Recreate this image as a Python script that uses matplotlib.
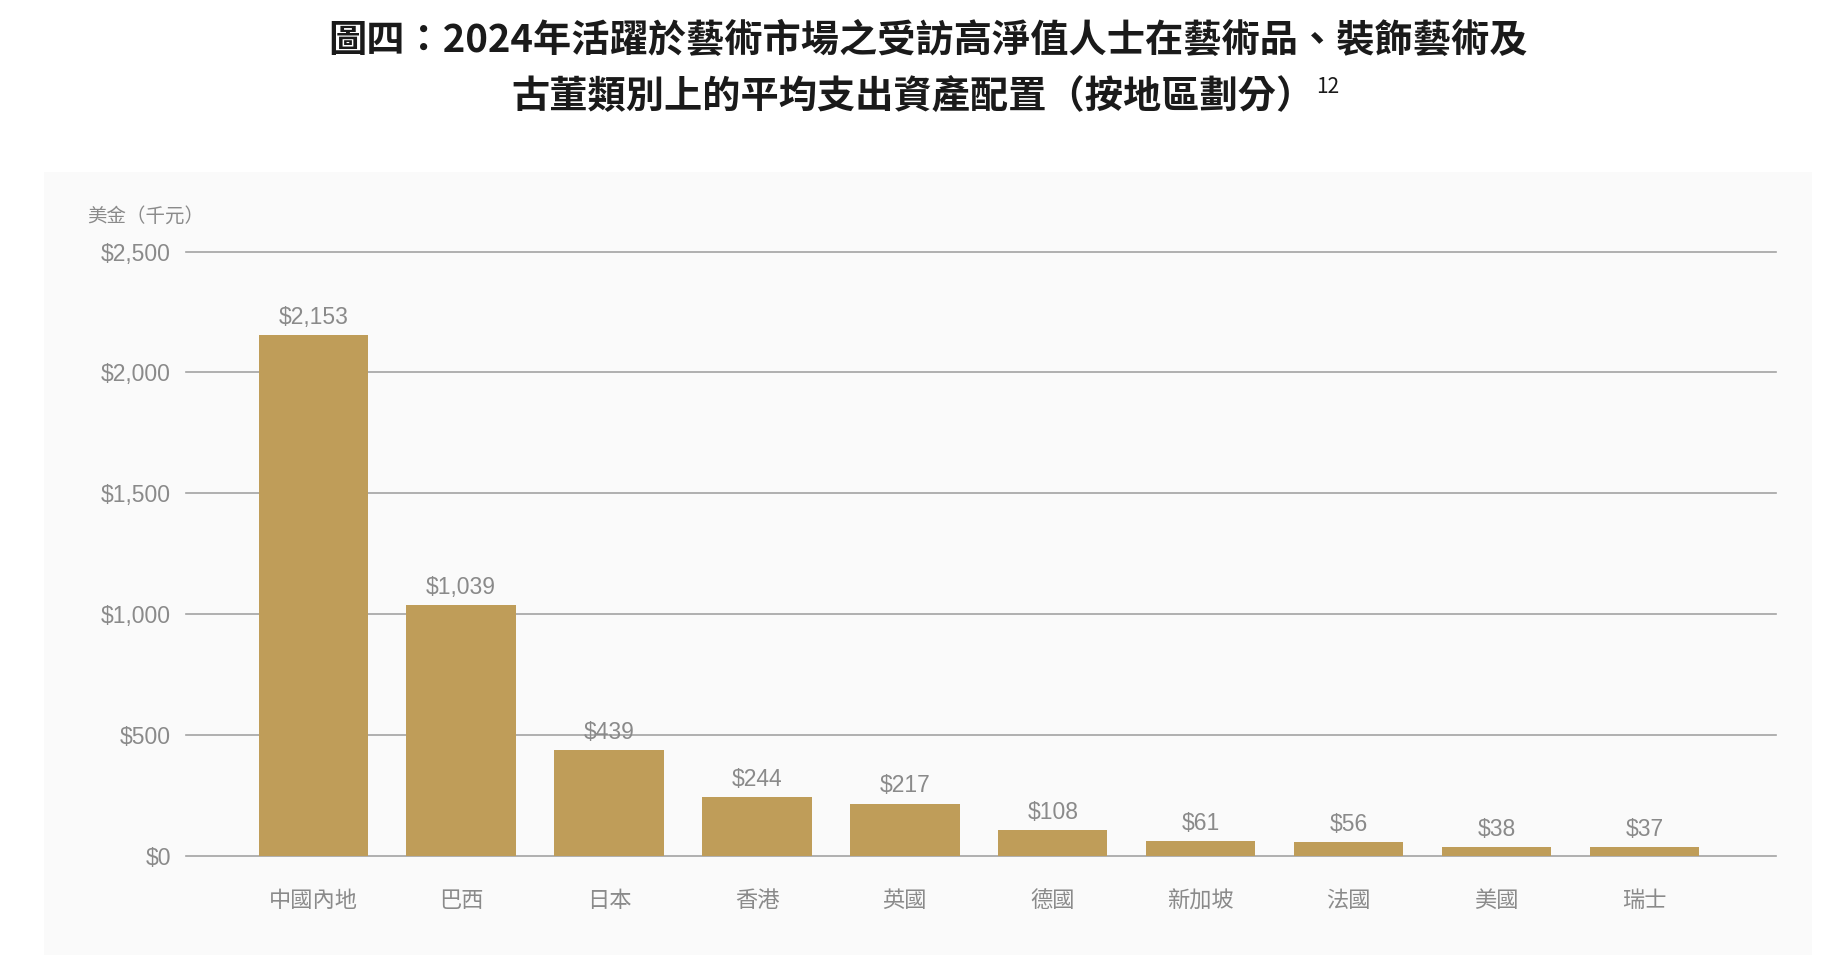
import matplotlib.pyplot as plt
from matplotlib.patches import Rectangle

# Data
regions = ["中國內地", "巴西", "日本", "香港", "英國", "德國", "新加坡", "法國", "美國", "瑞士"]
spend = [2153, 1039, 439, 244, 217, 108, 61, 56, 38, 37]
y_ticks = [0, 500, 1000, 1500, 2000, 2500]

title_line1 = "圖四：2024年活躍於藝術市場之受訪高淨值人士在藝術品、裝飾藝術及"
title_line2 = "古董類別上的平均支出資產配置（按地區劃分）"
y_label = "美金（千元）"

cjk = ["Noto Sans CJK TC", "DejaVu Sans"]
num_font = ["Liberation Sans", "DejaVu Sans"]
grey = "#8a8a8a"
gold = "#bf9d59"

# Creating the figure
fig = plt.figure(figsize=(18.26, 9.55), dpi=100)
fig.patches.append(Rectangle((0.0241, 0), 0.968, 0.82, transform=fig.transFigure,
                             facecolor="#fafafa", edgecolor="none", zorder=-5))

ax = fig.add_axes([0.1019, 0.1037, 0.8707, 0.6329])
ax.set_facecolor("none")
ax.set_zorder(2)

# Bars
x = list(range(len(regions)))
ax.bar(x, spend, width=0.74, color=gold, zorder=3)

# Gridlines
for t in y_ticks:
    ax.axhline(t, color="#a3a3a3", lw=1.2, zorder=1, clip_on=False)

ax.set_xlim(-0.86, 9.89)
ax.set_ylim(0, 2500)
for s in ax.spines.values():
    s.set_visible(False)

ax.set_yticks(y_ticks)
ax.set_yticklabels(["$" + "{:,}".format(t) for t in y_ticks], fontfamily=num_font,
                   fontsize=16.5, color=grey)
ax.set_xticks(x)
ax.set_xticklabels(regions, fontfamily=cjk, fontsize=16, color=grey, fontweight="light")
ax.tick_params(axis="y", length=0, pad=11)
ax.tick_params(axis="x", length=0, pad=24)

# Value labels
for i, v in zip(x, spend):
    ax.annotate("$" + "{:,}".format(v), (i, v), xytext=(0, 8), textcoords="offset points",
                ha="center", va="baseline", fontsize=16.5, color=grey, fontfamily=num_font)

# Axis unit label
fig.text(87 / 1826, 1 - 216 / 955, y_label, ha="left", va="center",
         fontsize=14, color=grey, fontfamily=cjk)

# Title
fig.text(0.508, 0.958, title_line1, ha="center", va="center", fontsize=27.5,
         fontweight="bold", color="#1a1a1a", fontfamily=cjk)
t2 = fig.text(0.5, 0.899, title_line2, ha="center", va="center", fontsize=27.5,
              fontweight="bold", color="#1a1a1a", fontfamily=cjk)
ax.annotate("12", xy=(1, 0.75), xycoords=t2, xytext=(1, 0), textcoords="offset points",
            ha="left", va="center", fontsize=15, color="#1a1a1a", fontfamily=cjk)

plt.savefig("out.png", dpi=100)
plt.close()
